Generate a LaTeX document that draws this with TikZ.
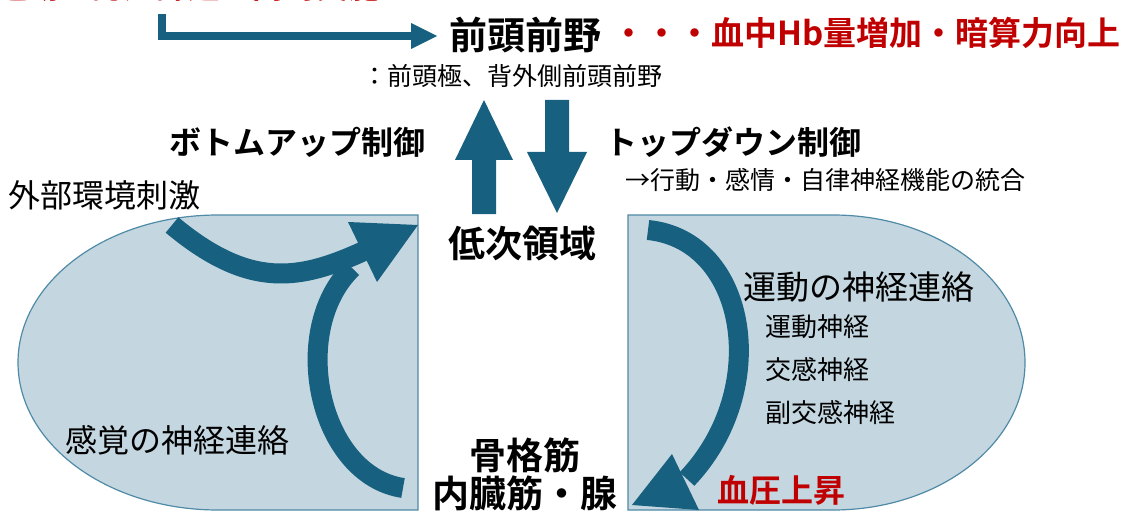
\documentclass[tikz,border=0pt]{standalone}
\usepackage{fontspec}
\setmainfont{Noto Sans CJK JP}[BoldFont={Noto Sans CJK JP Bold}]
\definecolor{arrowblue}{HTML}{17607F}
\definecolor{fillblue}{HTML}{C4D7E1}
\definecolor{edgeblue}{HTML}{4F8AA6}
\definecolor{darkred}{HTML}{C00000}
\begin{document}
\begin{tikzpicture}[x=1pt,y=-1pt,
  txt/.style={inner sep=0pt, font=\fontsize{#1pt}{#1pt}\selectfont},
  btxt/.style={inner sep=0pt, font=\fontsize{#1pt}{#1pt}\selectfont\bfseries},
  region/.style={fill=fillblue, draw=edgeblue, line width=1.2pt},
  shaft/.style={draw=arrowblue, line width=20pt},
  head/.style={fill=arrowblue}]
\useasboundingbox (0,0) rectangle (1129,513);
\clip (0,0) rectangle (1129,513);

% regions
\draw[region] (418,215) -- (218,215) arc[start angle=270, end angle=90, x radius=200, y radius=147.5] -- (418,510) -- cycle;
\draw[region] (628,215) -- (833,215) arc[start angle=-90, end angle=90, x radius=192, y radius=147.5] -- (628,510) -- cycle;

% cut-off red text at top
\node[btxt=32, text=darkred, anchor=base west] (toptext) at (-4,-1) {運動と認知課題の同時実施};

% top elbow arrow
\coordinate (es) at (162,14);
\coordinate (ee) at (412,36);
\draw[draw=arrowblue, line width=8pt] (es) |- (ee);
\fill[head] (411,23) -- (437,36) -- (411,49) -- cycle;

% labels
\node[btxt=38] (pfc) at (525,35) {前頭前野};
\node[btxt=33, text=darkred, anchor=west] (effect) at (612,33) {・・・血中Hb量増加・暗算力向上};
\node[txt=25, anchor=west] (pfcsub) at (362,76) {：前頭極、背外側前頭前野};
\node[btxt=32] (bu) at (297,142) {ボトムアップ制御};
\node[btxt=32, anchor=west] (td) at (605,142) {トップダウン制御};
\node[txt=25, anchor=west] (tdsub) at (625,180) {→行動・感情・自律神経機能の統合};
\node[txt=32, anchor=west] (stim) at (8,195) {外部環境刺激};
\node[btxt=37] (low) at (522,243) {低次領域};
\node[btxt=37] (musc1) at (525,455) {骨格筋};
\node[btxt=37] (musc2) at (525,493) {内臓筋・腺};
\node[txt=32, anchor=west] (sens) at (65,440) {感覚の神経連絡};
\node[txt=33, anchor=west] (motor) at (743,287) {運動の神経連絡};
\node[txt=26, anchor=west] (m1) at (765,327) {運動神経};
\node[txt=26, anchor=west] (m2) at (765,370) {交感神経};
\node[txt=26, anchor=west] (m3) at (765,413) {副交感神経};
\node[btxt=32, text=darkred, anchor=west] (bp) at (717,490) {血圧上昇};

% up / down block arrows
\fill[head] (472,214) -- (472,160) -- (455,160) -- (484,100) -- (513,160) -- (496,160) -- (496,214) -- cycle;
\fill[head] (545,100) -- (545,152) -- (527,152) -- (557,213) -- (587,152) -- (569,152) -- (569,100) -- cycle;

% left curved arrows
\coordinate (a1s) at (172,225);
\coordinate (a1e) at (364,251);
\draw[shaft] (a1s) .. controls (250,290) and (300,280) .. (a1e);
\coordinate (a2s) at (403,488);
\coordinate (a2e) at (352,268);
\draw[shaft] (a2s) .. controls (318,475) and (288,330) .. (a2e);
\fill[head] (348,222) -- (418,225) -- (377,282) -- cycle;

% right curved arrow
\coordinate (a3s) at (648,230);
\coordinate (a3e) at (687,479);
\draw[shaft] (a3s) .. controls (748,240) and (772,390) .. (a3e);
\fill[head] (672,454) -- (632,505) -- (699,510) -- cycle;
\end{tikzpicture}
\end{document}
